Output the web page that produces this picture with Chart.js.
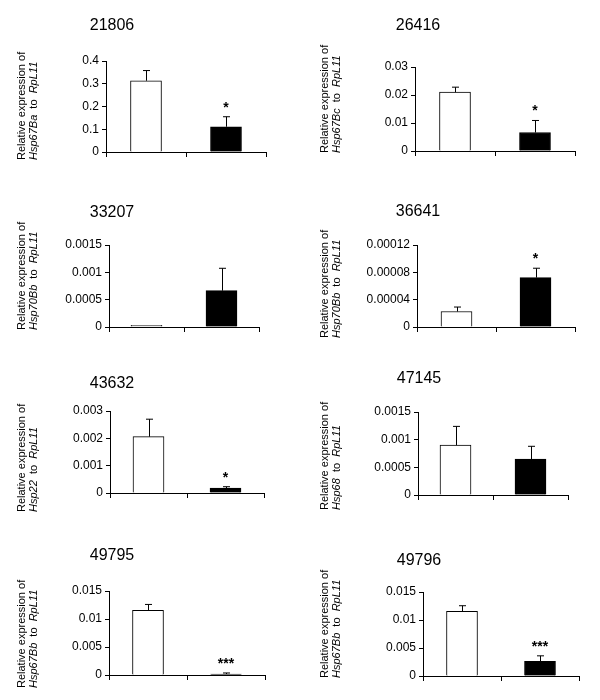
<!DOCTYPE html>
<html>
<head>
<meta charset="utf-8">
<script src="https://cdn.jsdelivr.net/npm/chart.js@4.4.1/dist/chart.umd.min.js"></script>
<style>
  body { margin: 0; background: #fff; }
  #page { position: relative; width: 600px; height: 700px; background: #fff; }
  #page canvas { position: absolute; }
</style>
</head>
<body>
<div id="page"></div>
<script>
// 数据
const panelTitles = ['21806', '26416', '33207', '36641', '43632', '47145', '49795', '49796'];
const geneNames = ['Hsp67Ba', 'Hsp67Bc', 'Hsp70Bb', 'Hsp70Bb', 'Hsp22', 'Hsp68', 'Hsp67Bb', 'Hsp67Bb'];
const groups = ['control', 'treated'];
const controlMeans = [0.313, 0.021, 0.00003, 0.0000227, 0.00206, 0.0009, 0.01155, 0.01155];
const controlErrors = [0.045, 0.0018, 0, 0.0000065, 0.00064, 0.00034, 0.00105, 0.001];
const treatedMeans = [0.111, 0.0066, 0.000664, 0.0000723, 0.00018, 0.00065, 0.00018, 0.0026];
const treatedErrors = [0.044, 0.0043, 0.00041, 0.0000137, 0.00005, 0.00023, 0.00018, 0.001];
const significance = ['*', '*', '', '*', '*', '', '***', '***'];
const yTickLabels = [
    ['0', '0.1', '0.2', '0.3', '0.4'],
    ['0', '0.01', '0.02', '0.03'],
    ['0', '0.0005', '0.001', '0.0015'],
    ['0', '0.00004', '0.00008', '0.00012'],
    ['0', '0.001', '0.002', '0.003'],
    ['0', '0.0005', '0.001', '0.0015'],
    ['0', '0.005', '0.01', '0.015'],
    ['0', '0.005', '0.01', '0.015']
];

// 布局（页面坐标）
const FONT = '"Liberation Sans", Arial, sans-serif';
const CELL_W = 300, CELL_H = 175;
const layout = [
    { axisX: 106, topY: 61, zeroY: 152, rightX: 266, titleX: 112, titleY: 26, labelY: 160 },
    { axisX: 415, topY: 67, zeroY: 151, rightX: 575, titleX: 418, titleY: 26, labelY: 153 },
    { axisX: 109, topY: 245, zeroY: 327, rightX: 259, titleX: 112, titleY: 213, labelY: 330 },
    { axisX: 417, topY: 245, zeroY: 327, rightX: 575, titleX: 418, titleY: 212, labelY: 338 },
    { axisX: 110, topY: 411, zeroY: 493, rightX: 264, titleX: 112, titleY: 384, labelY: 512 },
    { axisX: 418, topY: 412, zeroY: 495, rightX: 568, titleX: 419, titleY: 379, labelY: 510 },
    { axisX: 109, topY: 591, zeroY: 675, rightX: 265, titleX: 112, titleY: 556, labelY: 688 },
    { axisX: 423, topY: 592, zeroY: 676, rightX: 579, titleX: 419, titleY: 561, labelY: 678 }
];

// 标题、纵轴说明、误差线和显著性标记
const panelPlugin = {
    id: 'panelDecor',
    afterDatasetsDraw(chart) {
        const p = chart.config.options.panel;
        const ctx = chart.ctx;
        const yScale = chart.scales.y;
        const bars = chart.getDatasetMeta(0).data;
        const means = [controlMeans[p], treatedMeans[p]];
        const errs = [controlErrors[p], treatedErrors[p]];
        ctx.save();
        ctx.strokeStyle = '#000';
        ctx.lineWidth = 1;
        bars.forEach((bar, i) => {
            if (!errs[i]) return;
            const x = Math.round(bar.x) + 0.5;
            const yTop = yScale.getPixelForValue(means[i] + errs[i]);
            ctx.beginPath();
            ctx.moveTo(x, bar.y);
            ctx.lineTo(x, yTop);
            ctx.moveTo(x - 3.5, yTop);
            ctx.lineTo(x + 3.5, yTop);
            ctx.stroke();
        });
        if (significance[p]) {
            const bar = bars[1];
            const yTop = yScale.getPixelForValue(treatedMeans[p] + treatedErrors[p]);
            ctx.fillStyle = '#000';
            ctx.font = 'bold 14px ' + FONT;
            ctx.textAlign = 'center';
            ctx.textBaseline = 'alphabetic';
            ctx.fillText(significance[p], bar.x, yTop - 5);
        }
        ctx.restore();
    },
    afterDraw(chart) {
        const p = chart.config.options.panel;
        const g = layout[p];
        const left = (p % 2) * CELL_W;
        const top = Math.floor(p / 2) * CELL_H;
        const ctx = chart.ctx;
        ctx.save();
        ctx.fillStyle = '#000';

        ctx.font = '16px ' + FONT;
        ctx.textAlign = 'center';
        ctx.textBaseline = 'middle';
        ctx.fillText(panelTitles[p], g.titleX - left, g.titleY - top);

        const lx = p % 2 ? 25 : 22;
        ctx.translate(lx, g.labelY - top);
        ctx.rotate(-Math.PI / 2);
        ctx.textAlign = 'left';
        ctx.font = '11px ' + FONT;
        ctx.fillText('Relative expression of', 0, 0);
        const parts = [[geneNames[p], true], ['  to  ', false], ['RpL11', true]];
        let x = 0;
        parts.forEach(([txt, italic]) => {
            ctx.font = (italic ? 'italic ' : '') + '11px ' + FONT;
            ctx.fillText(txt, x, 11.5);
            x += ctx.measureText(txt).width;
        });
        ctx.restore();
    }
};

const page = document.getElementById('page');

panelTitles.forEach((title, p) => {
    const g = layout[p];
    const left = (p % 2) * CELL_W;
    const top = Math.floor(p / 2) * CELL_H;
    const canvas = document.createElement('canvas');
    canvas.width = CELL_W;
    canvas.height = CELL_H;
    canvas.style.left = left + 'px';
    canvas.style.top = top + 'px';
    page.appendChild(canvas);

    const labels = yTickLabels[p];
    const tickValues = labels.map(Number);

    new Chart(canvas.getContext('2d'), {
        type: 'bar',
        data: {
            labels: groups,
            datasets: [{
                data: [controlMeans[p], treatedMeans[p]],
                backgroundColor: ['#ffffff', '#000000'],
                borderColor: '#000',
                borderWidth: 1,
                barThickness: 31
            }]
        },
        options: {
            panel: p,
            responsive: false,
            animation: false,
            devicePixelRatio: 1,
            layout: {
                padding: {
                    left: 0,
                    top: g.topY - top,
                    right: left + CELL_W - g.rightX,
                    bottom: top + CELL_H - g.zeroY
                }
            },
            plugins: {
                legend: { display: false },
                tooltip: { enabled: false }
            },
            scales: {
                x: {
                    offset: true,
                    ticks: { display: false },
                    grid: { offset: true, drawOnChartArea: false, color: '#000', tickLength: 5 },
                    border: { color: '#000' },
                    afterFit: s => { s.height = 0; }
                },
                y: {
                    min: 0,
                    max: tickValues[tickValues.length - 1],
                    afterBuildTicks: s => { s.ticks = tickValues.map(v => ({ value: v })); },
                    ticks: {
                        callback: (v, i) => labels[i],
                        color: '#000',
                        padding: 3,
                        font: { family: FONT, size: 12 }
                    },
                    grid: { drawOnChartArea: false, color: '#000', tickLength: 4 },
                    border: { color: '#000' },
                    afterFit: s => { s.width = g.axisX - left; }
                }
            }
        },
        plugins: [panelPlugin]
    });
});
</script>
</body>
</html>
